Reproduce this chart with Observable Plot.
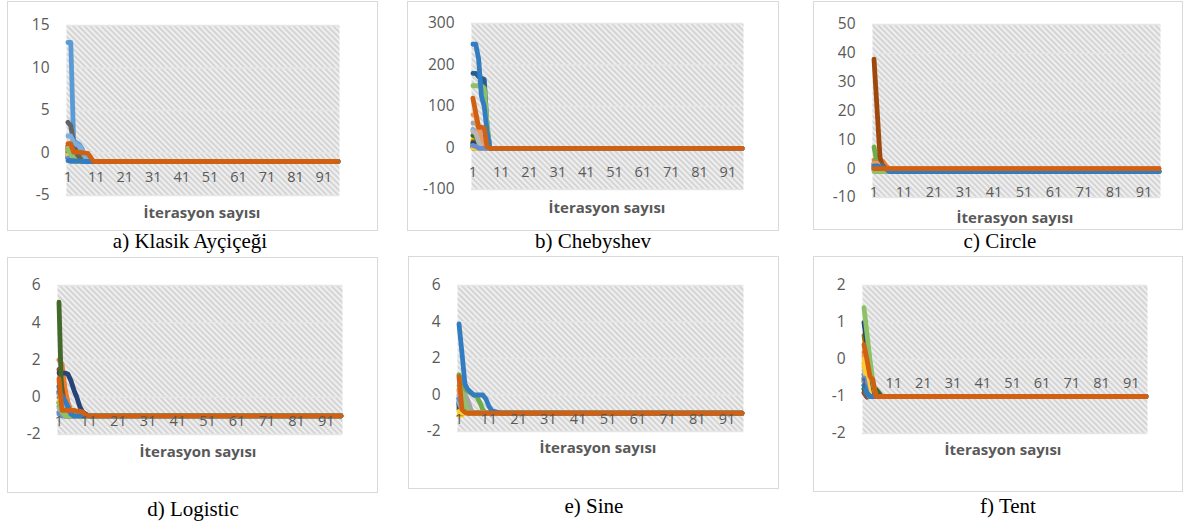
<!DOCTYPE html>
<html><head><meta charset="utf-8">
<script src="https://cdn.jsdelivr.net/npm/d3@7"></script>
<script src="https://cdn.jsdelivr.net/npm/@observablehq/plot@0.6"></script>
<style>
body{margin:0;background:#fff;width:1184px;height:526px;position:relative;overflow:hidden}
.box{position:absolute;border:1px solid #D9D9D9;box-sizing:border-box}
.chart{position:absolute}
.atitle{position:absolute;font:bold 15px "Open Sans";color:#595959;transform:translate(-50%,-50%);white-space:nowrap}
.cap{position:absolute;font:21px "Liberation Serif";color:#000;transform:translate(-50%,-50%);white-space:nowrap}
</style></head><body>
<script>
// ---------- data ----------
const iterationCount = 96;
const iterationTicks = [1, 11, 21, 31, 41, 51, 61, 71, 81, 91];
const xTitle = "İterasyon sayısı";
const panelCaptions = ["a) Klasik Ayçiçeği", "b) Chebyshev", "c) Circle", "d) Logistic", "e) Sine", "f) Tent"];
const seriesColors = ["#5B9BD5","#ED7D31","#A5A5A5","#FFC000","#4472C4","#70AD47",
  "#255E91","#9E480E","#636363","#997300","#264478","#43682B",
  "#7CAFDD","#F1975A","#B7B7B7","#FFCD33","#698ED0","#8CC168","#327DC2","#D26012"];

// each run: values read for the first iterations; the last value holds until iteration 96
const klasikRuns = [
  [13, 13, 1.5, 1.2, 1, 0.5, -0.5, -1],
  [0.2, 0.1, -0.2, -0.5, -0.9, -1],
  [0.5, 0.3, 0, -0.5, -1],
  [0.4, 0.3, -0.2, -0.6, -1],
  [-0.6, -0.8, -1],
  [0.2, 0, -0.2, -0.2, -0.3, -0.6, -1],
  [-0.3, -0.8, -1],
  [0.5, -0.3, -1],
  [3.6, 3.2, 1.2, 0.2, -0.5, -1],
  [0, -0.5, -1],
  [-0.5, -0.7, -1],
  [0.8, 0.5, -0.4, -1],
  [2, 2, 1.3, 1, 0.8, 0.3, -0.3, -0.9, -1],
  [0.6, 0.2, -0.6, -1],
  [-0.2, -1],
  [-0.4, -0.9, -1],
  [-0.6, -1],
  [0.4, -0.1, -0.6, -1],
  [-0.9, -0.9, -0.9, -0.95, -0.95, -1],
  [1.1, 1.1, 0.1, 0.1, 0.1, 0.05, 0, -0.05, -0.5, -1]
];
const chebyshevRuns = [
  [10, 8, 5, 0, -1],
  [3, 2, 0, -1],
  [60, 60, 50, 20, 0, -1],
  [20, 18, 10, 0, -1],
  [5, 8, 5, 3, 0, -1],
  [8, 5, 0, -1],
  [180, 180, 172, 168, 165, 50, 0, -1],
  [0, 0, -1],
  [2, 1, 0, -1],
  [15, 12, 3, -1],
  [12, 10, 5, 0, -1],
  [30, 28, 10, 0, -1],
  [45, 40, 20, 0, -1],
  [80, 80, 40, 10, -1],
  [40, 35, 15, 0, -1],
  [0, -1],
  [6, 4, 0, -1],
  [150, 150, 150, 150, 145, 60, 0, -1],
  [250, 250, 215, 125, 100, 40, 0, -1],
  [120, 85, 50, 50, 48, 2, -1]
];
const circleRuns = [
  [0.5, -1],
  [3, 1, 2, 2.5, 1, 0],
  [0.5, -1],
  [1, 0, -1],
  [0, -1],
  [7.5, 2, -0.5, -1],
  [1, 0.5, -1],
  [38, 21, 4, 0, -1],
  [2, 2, 1.5, 1, 0, -1],
  [0.5, -1],
  [1.5, 1, -1],
  [0, -1],
  [0.5, -1],
  [2, 2, 0, 0],
  [1, -1],
  [0, -1],
  [-0.5, -1],
  [-1],
  [1, 1, 0.5, 0.3, 0, -1],
  [0]
];
const logisticRuns = [
  [0, 0.4, 0.3, -0.3, -0.8, -1],
  [2, 1.8, 0.5, -0.3, -0.7, -1],
  [0.5, 0, -0.8, -1],
  [0.8, 0.3, -0.5, -1],
  [-0.8, -0.9, -1],
  [-0.5, -0.9, -1],
  [0.6, 0, -0.7, -1],
  [1.5, 0.5, -0.5, -1],
  [-0.3, -0.8, -1],
  [0.2, -0.6, -1],
  [1.3, 1.3, 1.3, 1.25, 0.9, 0.4, 0, -0.5, -0.8, -0.9, -1],
  [5.1, -0.7, -0.8, -0.9, -1],
  [0.2, -0.2, -0.9, -1],
  [0.3, -0.5, -1],
  [-0.6, -1],
  [-0.2, -0.8, -1],
  [-0.9, -1],
  [-0.3, -0.8, -1],
  [0.3, 0.1, -0.2, -0.5, -0.9, -1],
  [1, -0.7, -0.7, -0.7, -0.7, -0.7, -0.75, -0.75, -0.8, -0.95, -1]
];
const sineRuns = [
  [-0.3, -0.7, -1],
  [0.3, -0.5, -1],
  [0, 0.1, 0, -0.3, -0.8, -1],
  [-1.1, -1.1, -1],
  [-0.2, -0.5, -0.9, -1],
  [1.1, 0.8, 0.3, 0.2, 0.1, 0, -0.1, -0.4, -0.8, -1],
  [-0.5, -0.9, -1],
  [-0.4, -0.9, -1],
  [-0.7, -1],
  [-0.8, -1],
  [-0.6, -1],
  [-0.5, -1],
  [-0.4, -0.8, -1],
  [0.2, -0.6, -1],
  [-0.1, -0.6, -1],
  [-0.9, -1],
  [-0.2, -0.5, -0.9, -1],
  [0.5, 0.1, -0.5, -1],
  [3.9, 2.3, 0.6, 0.3, 0.15, 0, 0, 0, 0, -0.2, -0.6, -0.85, -0.9, -0.95, -1],
  [1, -0.8, -0.95, -1]
];
const tentRuns = [
  [-0.5, -0.7, -1],
  [0.2, -0.3, -0.8, -1],
  [-0.1, -0.5, -1],
  [-0.2, -0.4, -0.9, -1],
  [-0.7, -1],
  [-0.6, -0.9, -1],
  [-0.4, -0.8, -1],
  [-0.9, -1.02, -1],
  [-0.8, -1],
  [0.65, 0.1, -0.5, -1],
  [1, 0.4, -0.1, -0.7, -1],
  [-0.8, -0.8, -0.8, -0.8, -0.8, -0.9, -1],
  [-0.6, -0.8, -1],
  [0.1, -0.5, -1],
  [-0.3, -0.7, -1],
  [0, -0.6, -1],
  [-0.5, -0.9, -1],
  [1.4, 0.7, 0, -0.6, -1],
  [-0.7, -0.9, -1],
  [0.4, 0, -0.45, -0.55, -1]
];
const klasikTicks = [-5, 0, 5, 10, 15];
const chebyshevTicks = [-100, 0, 100, 200, 300];
const circleTicks = [-10, 0, 10, 20, 30, 40, 50];
const logisticTicks = [-2, 0, 2, 4, 6];
const sineTicks = [-2, 0, 2, 4, 6];
const tentTicks = [-2, -1, 0, 1, 2];

// ---------- layout (page pixels) ----------
const panels = [
  {id:"a", runs:klasikRuns, ticks:klasikTicks, box:[7,1,378,231], frame:[66,25,339,195], title:[202,212], cap:[190,241]},
  {id:"b", runs:chebyshevRuns, ticks:chebyshevTicks, box:[407,1,779,231], frame:[471,23,743,189], title:[607,207], cap:[593,241]},
  {id:"c", runs:circleRuns, ticks:circleTicks, box:[813,1,1183,230], frame:[872,24,1160,197], title:[1015,217], cap:[1000,241]},
  {id:"d", runs:logisticRuns, ticks:logisticTicks, box:[7,257,378,493], frame:[57,285,342,434], title:[198,451], cap:[193,509]},
  {id:"e", runs:sineRuns, ticks:sineTicks, box:[408,256,779,489], frame:[457,285,743,431], title:[598,447], cap:[594,506]},
  {id:"f", runs:tentRuns, ticks:tentTicks, box:[813,256,1183,492], frame:[862,285,1147,433], title:[1003,449], cap:[1008,506]}
];

function expand(head) {
  const out = [];
  for (let i = 0; i < iterationCount; i++) out.push({it: i + 1, v: head[Math.min(i, head.length - 1)]});
  return out;
}

const NS = "http://www.w3.org/2000/svg";
panels.forEach((p, k) => {
  const [bx0, by0, bx1, by1] = p.box;
  const [fx0, fy0, fx1, fy1] = p.frame;
  const box = document.createElement("div");
  box.className = "box";
  Object.assign(box.style, {left: bx0 + "px", top: by0 + "px", width: (bx1 - bx0) + "px", height: (by1 - by0) + "px"});
  document.body.appendChild(box);

  const yd = [p.ticks[0], p.ticks[p.ticks.length - 1]];
  const svg = Plot.plot({
    width: bx1 - bx0, height: by1 - by0,
    marginLeft: fx0 - bx0, marginRight: bx1 - fx1, marginTop: fy0 - by0, marginBottom: by1 - fy1,
    style: {fontFamily: "Open Sans", background: "transparent", overflow: "visible"},
    x: {domain: [0.5, iterationCount + 0.5], axis: null},
    y: {domain: yd, axis: null},
    marks: [
      Plot.frame({fill: `url(#hatch-${p.id})`, stroke: "none"}),
      Plot.ruleY(p.ticks, {stroke: "#E6E6E6", strokeWidth: 1.3}),
      Plot.axisY(p.ticks, {tickSize: 0, tickPadding: 17, fontSize: 15.5, fill: "#595959", label: null, tickFormat: d => String(d)}),
      ...p.runs.map((r, i) => Plot.line(expand(r), {x: "it", y: "v", stroke: seriesColors[i], strokeWidth: 4.8, strokeLinejoin: "round"})),
      Plot.text(iterationTicks, {x: d => d, y: () => 0, dy: 24, text: d => String(d), fill: "#595959", fontSize: 14.5})
    ]
  });
  const defs = document.createElementNS(NS, "defs");
  const pat = document.createElementNS(NS, "pattern");
  pat.setAttribute("id", "hatch-" + p.id);
  pat.setAttribute("width", "4"); pat.setAttribute("height", "4");
  pat.setAttribute("patternUnits", "userSpaceOnUse");
  pat.setAttribute("patternTransform", "rotate(-45)");
  const r1 = document.createElementNS(NS, "rect");
  r1.setAttribute("width", "4"); r1.setAttribute("height", "4"); r1.setAttribute("fill", "#EFEFEF");
  const r2 = document.createElementNS(NS, "rect");
  r2.setAttribute("width", "1.8"); r2.setAttribute("height", "4"); r2.setAttribute("fill", "#D2D2D2");
  pat.appendChild(r1); pat.appendChild(r2); defs.appendChild(pat);
  svg.insertBefore(defs, svg.firstChild);
  svg.classList.add("chart");
  svg.style.left = bx0 + "px"; svg.style.top = by0 + "px";
  svg.style.position = "absolute";
  document.body.appendChild(svg);

  const t = document.createElement("div");
  t.className = "atitle"; t.textContent = xTitle;
  t.style.left = p.title[0] + "px"; t.style.top = p.title[1] + "px";
  document.body.appendChild(t);
  const c = document.createElement("div");
  c.className = "cap"; c.textContent = panelCaptions[k];
  c.style.left = p.cap[0] + "px"; c.style.top = p.cap[1] + "px";
  document.body.appendChild(c);
});
</script></body></html>
